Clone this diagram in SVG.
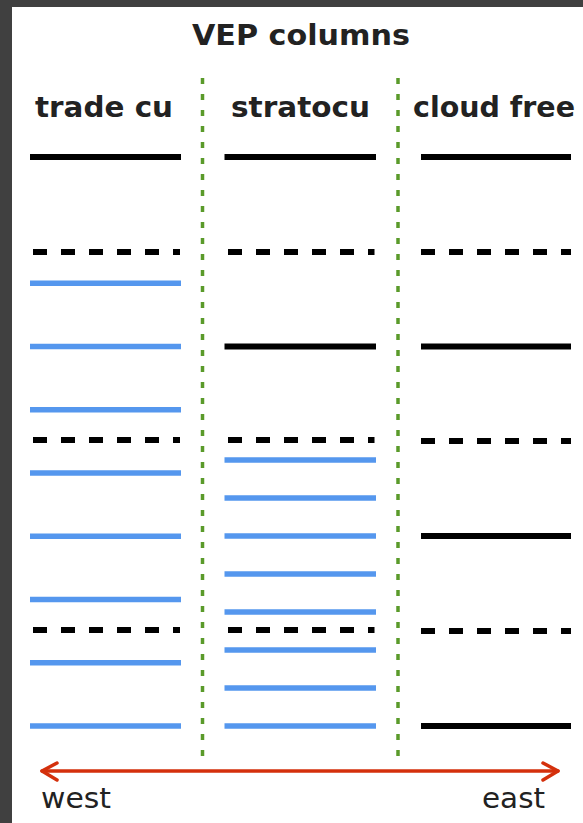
<svg xmlns="http://www.w3.org/2000/svg" width="583" height="823" viewBox="0 0 583 823">
<style>
.t{font-family:"DejaVu Sans","Liberation Sans",sans-serif;fill:#222;}
.h{font-weight:bold;font-size:28px;}
.d{font-size:29px;}
.solid{stroke:#000;stroke-width:6;}
.dash{stroke:#000;stroke-width:6;stroke-dasharray:14 14;}
.blue{stroke:#5597ee;stroke-width:5.5;}
.sep{stroke:#5a9a2a;stroke-width:3.5;stroke-dasharray:6 10;}
.arr{stroke:#d4300c;stroke-width:3.5;fill:none;stroke-linecap:round;stroke-linejoin:round;}
</style>
<rect x="0" y="0" width="583" height="823" fill="#404040"/>
<rect x="12" y="7" width="571" height="816" fill="#fff"/>
<g id="title"><text class="t h" x="192" y="45" textLength="218" lengthAdjust="spacingAndGlyphs">VEP columns</text></g>
<g id="col-trade-cu">
<text class="t h" x="35" y="117" textLength="138" lengthAdjust="spacingAndGlyphs">trade cu</text>
<line class="solid" x1="30" y1="157" x2="181" y2="157"/>
<line class="dash" x1="33" y1="252" x2="180" y2="252"/>
<line class="dash" x1="33" y1="440" x2="180" y2="440"/>
<line class="dash" x1="33" y1="630" x2="180" y2="630"/>
<line class="blue" x1="30" y1="283.3" x2="181" y2="283.3"/>
<line class="blue" x1="30" y1="346.5" x2="181" y2="346.5"/>
<line class="blue" x1="30" y1="409.7" x2="181" y2="409.7"/>
<line class="blue" x1="30" y1="473" x2="181" y2="473"/>
<line class="blue" x1="30" y1="536.2" x2="181" y2="536.2"/>
<line class="blue" x1="30" y1="599.4" x2="181" y2="599.4"/>
<line class="blue" x1="30" y1="662.7" x2="181" y2="662.7"/>
<line class="blue" x1="30" y1="726" x2="181" y2="726"/>
</g>
<g id="col-stratocu">
<text class="t h" x="231" y="117" textLength="139" lengthAdjust="spacingAndGlyphs">stratocu</text>
<line class="solid" x1="224.5" y1="157" x2="376" y2="157"/>
<line class="dash" x1="228" y1="252" x2="374.5" y2="252"/>
<line class="solid" x1="224.5" y1="346.5" x2="376" y2="346.5"/>
<line class="dash" x1="228" y1="440" x2="374.5" y2="440"/>
<line class="dash" x1="228" y1="630" x2="374.5" y2="630"/>
<line class="blue" x1="224.5" y1="460" x2="376" y2="460"/>
<line class="blue" x1="224.5" y1="498" x2="376" y2="498"/>
<line class="blue" x1="224.5" y1="536" x2="376" y2="536"/>
<line class="blue" x1="224.5" y1="574" x2="376" y2="574"/>
<line class="blue" x1="224.5" y1="612" x2="376" y2="612"/>
<line class="blue" x1="224.5" y1="650" x2="376" y2="650"/>
<line class="blue" x1="224.5" y1="688" x2="376" y2="688"/>
<line class="blue" x1="224.5" y1="726" x2="376" y2="726"/>
</g>
<g id="col-cloud-free">
<text class="t h" x="413" y="117" textLength="162" lengthAdjust="spacingAndGlyphs">cloud free</text>
<line class="solid" x1="421" y1="157" x2="571" y2="157"/>
<line class="dash" x1="421" y1="252" x2="571" y2="252"/>
<line class="solid" x1="421" y1="346.5" x2="571" y2="346.5"/>
<line class="dash" x1="421" y1="441" x2="571" y2="441"/>
<line class="solid" x1="421" y1="536" x2="571" y2="536"/>
<line class="dash" x1="421" y1="631" x2="571" y2="631"/>
<line class="solid" x1="421" y1="726" x2="571" y2="726"/>
</g>
<g id="connectors">
<line class="sep" x1="202.5" y1="78" x2="202.5" y2="756"/>
<line class="sep" x1="398" y1="78" x2="398" y2="756"/>
<line class="arr" x1="42" y1="771" x2="558" y2="771"/>
<polyline class="arr" points="57,763 42,771 57,780"/>
<polyline class="arr" points="543,763 558,771 543,780"/>
</g>
<g id="labels">
<text class="t d" x="41" y="808" textLength="70" lengthAdjust="spacingAndGlyphs">west</text>
<text class="t d" x="482" y="808" textLength="63" lengthAdjust="spacingAndGlyphs">east</text>
</g>
</svg>
